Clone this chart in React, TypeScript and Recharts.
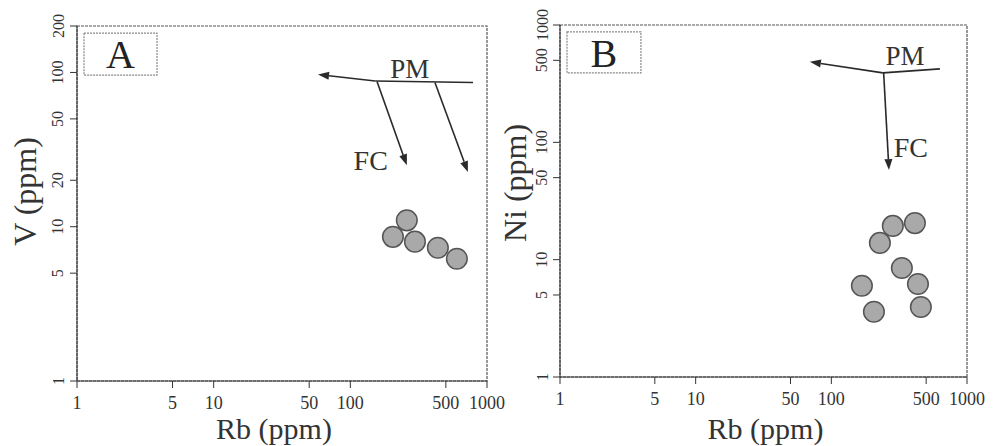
import React from 'react'
import { ScatterChart, Scatter, XAxis, YAxis, ReferenceLine, ReferenceDot, ReferenceArea } from 'recharts'

const SERIF = '"Liberation Serif", "Times New Roman", serif'
const INK = '#2a2a2a'

// shared x axis: Rb (ppm), log scale
const rbTicks = [1, 5, 10, 50, 100, 500, 1000]

// panel A: Rb vs V
const rbA = [205, 259, 297, 437, 602]
const vA = [8.6, 11.0, 8.0, 7.3, 6.2]
const vTicks = [1, 5, 10, 20, 50, 100, 200]

// panel B: Rb vs Ni
const rbB = [168, 206, 228, 284, 331, 413, 435, 457]
const niB = [6.0, 3.6, 13.9, 19.4, 8.5, 20.5, 6.2, 3.95]
const niTicks = [1, 5, 10, 50, 100, 500, 1000]

// trend vectors (Rb, y) in data units
const pmLineA = [[790, 86], [152, 88]]
const arrowsA = [
    [[152, 88], [58, 97]],
    [[157, 87], [259, 25]],
    [[416, 86], [725, 22.6]],
]
const pmLineB = [[631, 423], [240, 391]]
const arrowsB = [
    [[240, 391], [69.5, 485]],
    [[243, 391], [266, 58]],
]

// text annotations [Rb, y]
const pmA = [272, 106]
const fcA = [141, 27]
const pmB = [349, 540]
const fcB = [386, 91]

// panel letter boxes [x1, x2, y1, y2]
const boxA = [1.125, 3.85, 96, 180]
const boxB = [1.126, 3.95, 391, 873]

const YTick = (props: any) => {
    const { x, y, payload } = props
    return (
        <text x={x} y={y} transform={`rotate(-90 ${x} ${y})`} textAnchor="middle"
            dominantBaseline="central" fontSize={16} fontFamily={SERIF} fill="#333">
            {payload.value}
        </text>
    )
}

const XTick = (props: any) => {
    const { x, y, payload } = props
    return (
        <text x={x} y={y} textAnchor="middle" dy={9} fontSize={18} fontFamily={SERIF} fill="#333">
            {payload.value}
        </text>
    )
}

const Arrow = (props: any) => {
    const { x1, y1, x2, y2 } = props
    const a = Math.atan2(y2 - y1, x2 - x1)
    const len = 11
    const half = 4
    const bx = x2 - len * Math.cos(a)
    const by = y2 - len * Math.sin(a)
    const px = -Math.sin(a) * half
    const py = Math.cos(a) * half
    return (
        <g>
            <line x1={x1} y1={y1} x2={bx} y2={by} stroke={INK} strokeWidth={1.6} />
            <polygon points={`${x2},${y2} ${bx + px},${by + py} ${bx - px},${by - py}`} fill={INK} />
        </g>
    )
}

const Plain = (props: any) => {
    const { x1, y1, x2, y2 } = props
    return <line x1={x1} y1={y1} x2={x2} y2={y2} stroke={INK} strokeWidth={1.6} />
}

const word = (text: string, size: number) => (p: any) => (
    <text x={p.cx} y={p.cy} textAnchor="middle" dominantBaseline="central"
        fontSize={size} fontFamily={SERIF} fill="#333">{text}</text>
)

const Dot = (p: any) => (
    <circle cx={p.cx} cy={p.cy} r={10.3} fill="#a9a9a9" stroke="#555" strokeWidth={1.5} />
)

const yTitle = (text: string, dx: number, dy: number) => (props: any) => {
    const vb = props.viewBox
    const cx = vb.x + dx
    const cy = vb.y + vb.height / 2 + dy
    return (
        <text x={cx} y={cy} transform={`rotate(-90 ${cx} ${cy})`} textAnchor="middle"
            dominantBaseline="central" fontSize={32} fontFamily={SERIF} fill="#333">{text}</text>
    )
}

const xTitle = (text: string, dx: number, dy: number) => (props: any) => {
    const vb = props.viewBox
    return (
        <text x={vb.x + vb.width / 2 + dx} y={vb.y + dy} textAnchor="middle"
            fontSize={30} fontFamily={SERIF} fill="#333">{text}</text>
    )
}

type PanelProps = {
    left: number
    width: number
    margin: { top: number, right: number, bottom: number, left: number }
    rb: number[]
    ys: number[]
    yTicks: number[]
    yMax: number
    yName: string
    yDx: number
    yDy: number
    xDx: number
    xDy: number
    tickMarginY: number
    letter: string
    box: number[]
    pmLine: number[][]
    arrows: number[][][]
    pm: number[]
    fc: number[]
}

const Panel: React.FC<PanelProps> = (p) => {
    const data = p.rb.map((rb, i) => ({ rb, y: p.ys[i] }))
    return (
        <div style={{ position: 'absolute', left: p.left, top: 0 }}>
            <ScatterChart width={p.width} height={446} margin={p.margin}>
                <XAxis type="number" dataKey="rb" scale="log" domain={[1, 1000]} ticks={rbTicks}
                    interval={0} allowDataOverflow stroke="#333" tickSize={7} tickMargin={12} height={30}
                    tick={XTick}
                    label={{ content: xTitle('Rb (ppm)', p.xDx, p.xDy) }} />
                <YAxis type="number" dataKey="y" scale="log" domain={[1, p.yMax]} ticks={p.yTicks}
                    interval={0} allowDataOverflow stroke="#333" tickSize={7} tickMargin={p.tickMarginY}
                    width={60} tick={YTick}
                    label={{ content: yTitle(p.yName, p.yDx, p.yDy) }} />
                <ReferenceArea x1={1} x2={1000} y1={1} y2={p.yMax} fill="none" fillOpacity={0}
                    stroke="#555" strokeWidth={1.2} strokeDasharray="3 1" />
                <ReferenceArea x1={p.box[0]} x2={p.box[1]} y1={p.box[2]} y2={p.box[3]} fill="#fff"
                    fillOpacity={1} stroke="#888" strokeWidth={1.2} strokeDasharray="2 1"
                    label={{ value: p.letter, position: 'center', fontSize: 40, fontFamily: SERIF, fill: '#222' }} />
                <ReferenceLine segment={[{ x: p.pmLine[0][0], y: p.pmLine[0][1] }, { x: p.pmLine[1][0], y: p.pmLine[1][1] }]}
                    shape={Plain} />
                {p.arrows.map((a, i) => (
                    <ReferenceLine key={i} segment={[{ x: a[0][0], y: a[0][1] }, { x: a[1][0], y: a[1][1] }]}
                        shape={Arrow} />
                ))}
                <ReferenceDot x={p.pm[0]} y={p.pm[1]} r={0} shape={word('PM', 27)} />
                <ReferenceDot x={p.fc[0]} y={p.fc[1]} r={0} shape={word('FC', 28)} />
                <Scatter data={data} shape={Dot} isAnimationActive={false} />
            </ScatterChart>
        </div>
    )
}

const App: React.FC = () => {
    return (
        <div style={{ position: 'absolute', left: 0, top: 0, width: 993, height: 446, background: '#fff', overflow: 'hidden' }}>
            <Panel left={0} width={520} margin={{ top: 26, right: 33, bottom: 35, left: 17 }}
                rb={rbA} ys={vA} yTicks={vTicks} yMax={200} yName="V (ppm)" yDx={8} yDy={-12}
                xDx={-8} xDy={58} tickMarginY={12} letter="A" box={boxA}
                pmLine={pmLineA} arrows={arrowsA} pm={pmA} fc={fcA} />
            <Panel left={493} width={500} margin={{ top: 25, right: 26, bottom: 39, left: 7 }}
                rb={rbB} ys={niB} yTicks={niTicks} yMax={1000} yName="Ni (ppm)" yDx={15} yDy={-18}
                xDx={2} xDy={62} tickMarginY={11} letter="B" box={boxB}
                pmLine={pmLineB} arrows={arrowsB} pm={pmB} fc={fcB} />
        </div>
    )
}

export default App
